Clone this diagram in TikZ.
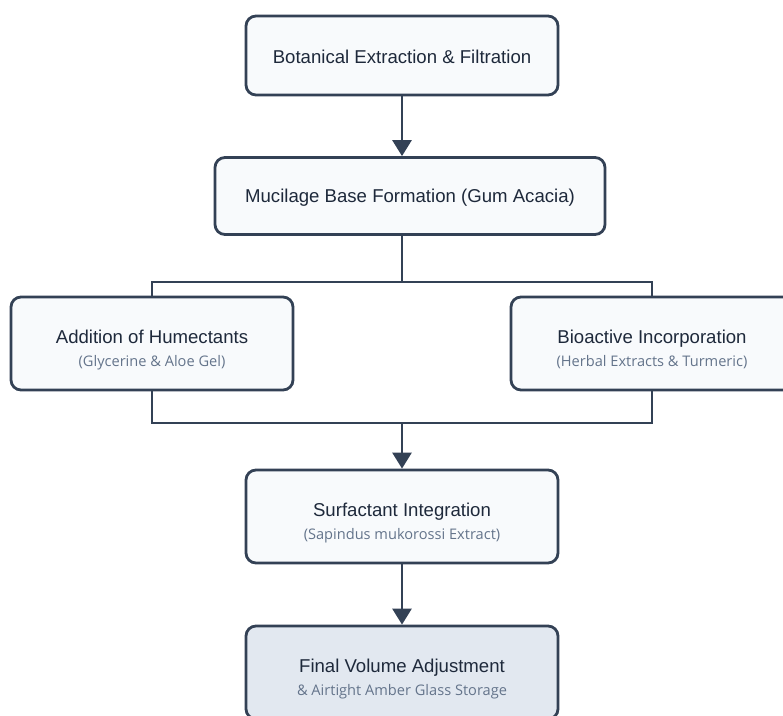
\documentclass[tikz,border=0pt]{standalone}
\usepackage{fontspec}
\setmainfont{Liberation Sans}
\newfontfamily\subfont{Open Sans}
\usetikzlibrary{arrows.meta}

\definecolor{edgegray}{HTML}{334155}
\definecolor{boxfill}{HTML}{F8FAFC}
\definecolor{lastfill}{HTML}{E2E8F0}
\definecolor{titletext}{HTML}{1E293B}
\definecolor{subtext}{HTML}{64748B}

% title line plus grey detail line
\newcommand{\steptext}[2]{\rule{0pt}{26pt}#1\\[1pt]{\subfont\fontsize{14.6}{17}\selectfont\color{subtext}#2}}

\begin{document}
\begin{tikzpicture}[
        x=1pt, y=-1pt,
        stepbox/.style={draw=edgegray, fill=boxfill, line width=2.8pt, rounded corners=10pt,
          align=center, text=titletext, font=\fontsize{18.6}{22}\selectfont, inner sep=0pt},
        link/.style={draw=edgegray, line width=2.8pt},
        flow/.style={link, -{Triangle[width=19pt,length=16pt]}}
      ]

      \useasboundingbox (0,0) rectangle (783,715);
      \fill [white] (0,0) rectangle (783,715);

      \node[stepbox, minimum width=312pt, minimum height=79pt] (extract) at (402,55.5) {\rule{0pt}{16pt}Botanical Extraction \& Filtration};
      \node[stepbox, minimum width=390pt, minimum height=77pt] (mucilage) at (410,196) {\rule{0pt}{16pt}Mucilage Base Formation (Gum Acacia)};
      \node[stepbox, minimum width=282pt, minimum height=93pt] (humect) at (152,343.5) {\steptext{Addition of Humectants}{(Glycerine \& Aloe Gel)}};
      \node[stepbox, minimum width=282pt, minimum height=93pt] (bioact) at (652,343.5) {\steptext{Bioactive Incorporation}{(Herbal Extracts \& Turmeric)}};
      \node[stepbox, minimum width=312pt, minimum height=93pt] (surfact) at (402,516.5) {\steptext{Surfactant Integration}{(Sapindus mukorossi Extract)}};
      \node[stepbox, fill=lastfill, minimum width=312pt, minimum height=93pt] (final) at (402,672.5) {\steptext{Final Volume Adjustment}{\& Airtight Amber Glass Storage}};

      \coordinate (split) at (402,282);
      \coordinate (merge) at (402,423);

      \draw[flow] (extract) -- (extract |- mucilage.north);
      \draw[link] (extract |- mucilage.south) -- (split);
      \draw[link] (humect.north) |- (split) -| (bioact.north);
      \draw[link] (humect.south) |- (merge) -| (bioact.south);
      \draw[flow] (merge) -- (surfact.north);
      \draw[flow] (surfact) -- (final);

    \end{tikzpicture}
\end{document}
